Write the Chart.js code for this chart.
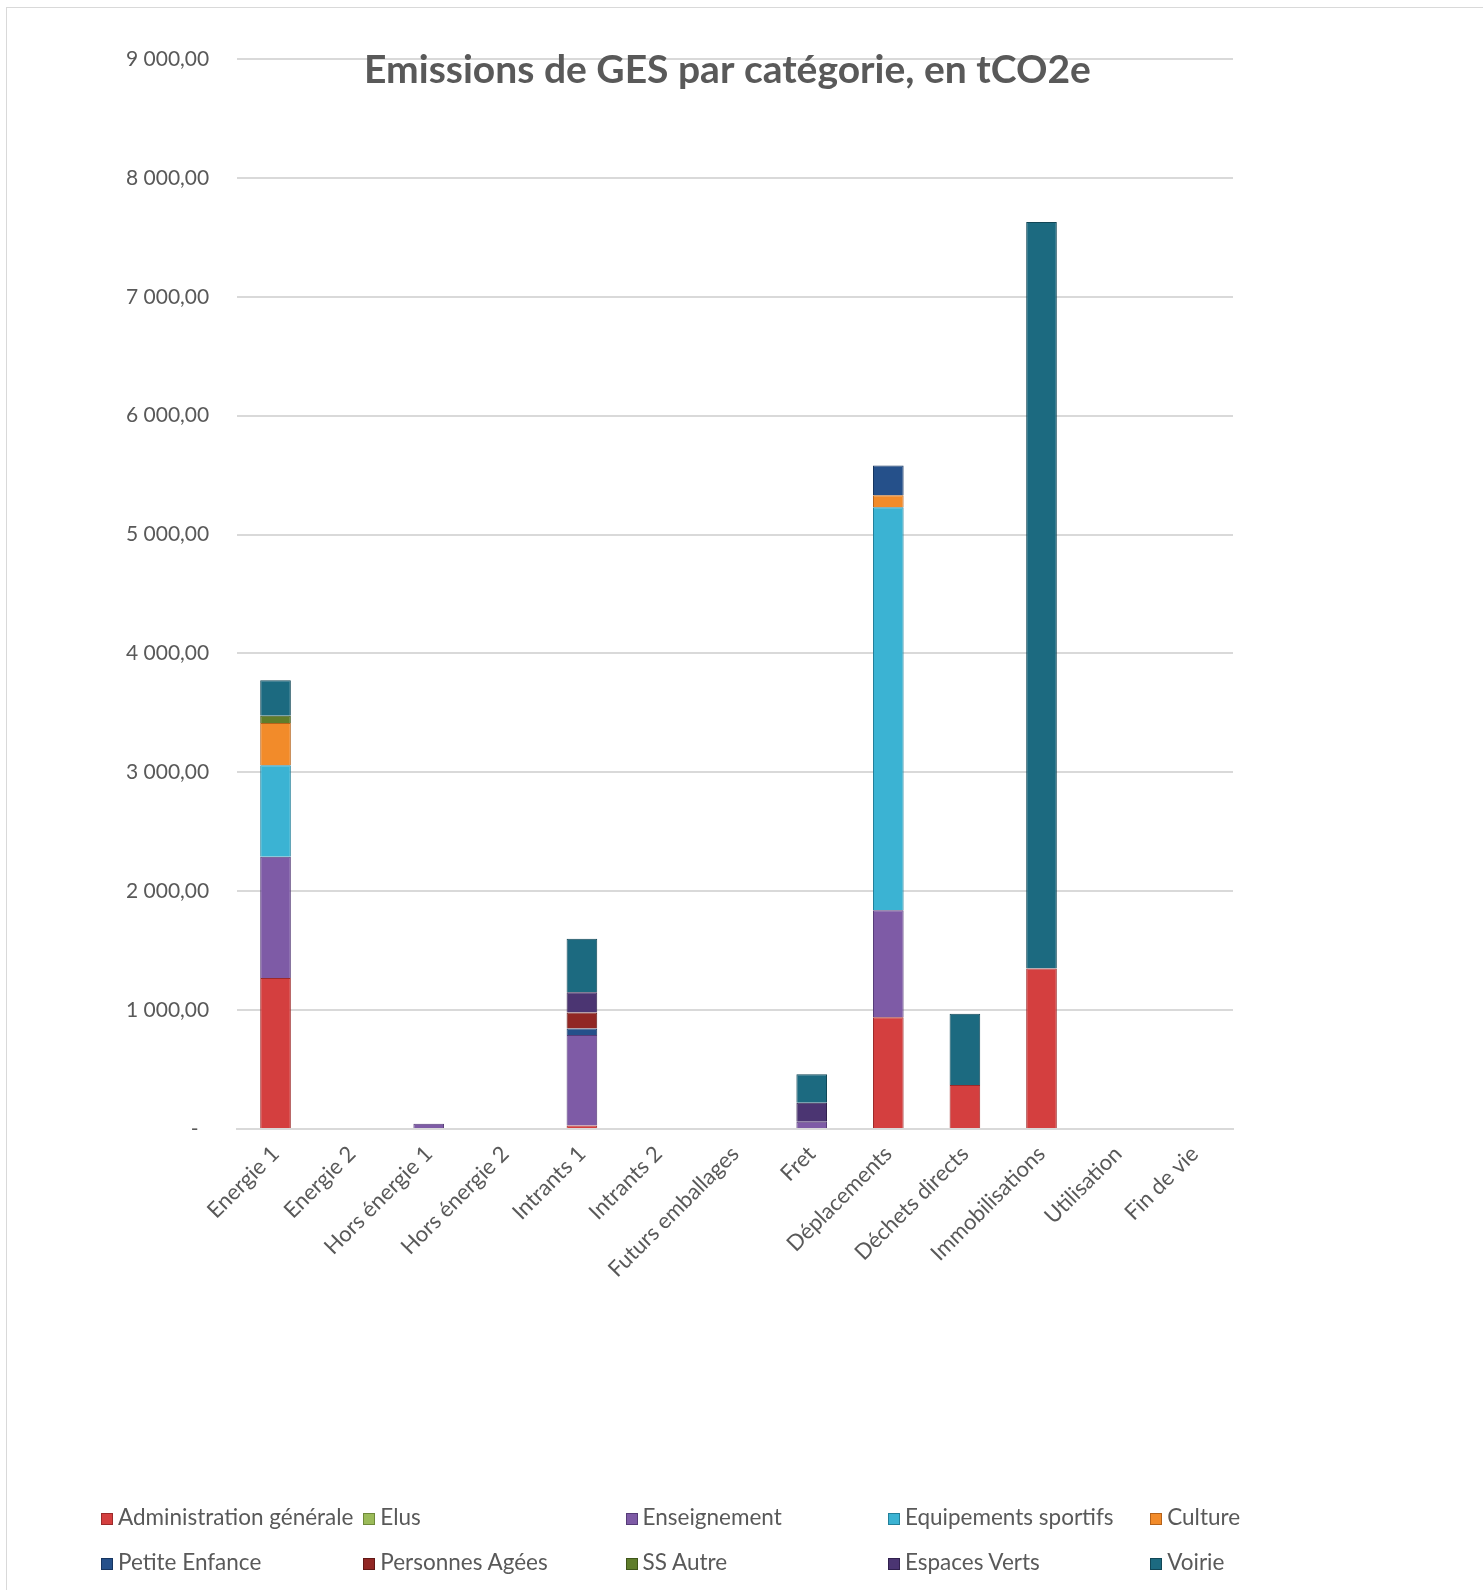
<!DOCTYPE html>
<html>
<head>
<meta charset="utf-8">
<script src="https://cdn.jsdelivr.net/npm/chart.js@4/dist/chart.umd.min.js"></script>
<style>
  body { margin: 0; background: #fff; overflow: hidden; font-family: Lato, sans-serif; }
  #cadre { position: absolute; left: 6px; top: 7px; width: 1500px; height: 1600px; border: 1px solid #d9d9d9; }
  #graphique { position: absolute; left: 0; top: 0; }
  #legende { position: absolute; left: 0; top: 0; width: 1483px; }
  .item { position: absolute; font-size: 22.5px; color: #595959; white-space: nowrap; line-height: 24px; }
  .item span.carre { display: inline-block; width: 12px; height: 12px; margin-right: 5px; vertical-align: 0px; box-sizing: border-box; }
</style>
</head>
<body>
<div id="cadre"></div>
<canvas id="graphique" width="1483" height="1590"></canvas>
<div id="legende"></div>
<script>
const categories = ["Energie 1", "Energie 2", "Hors énergie 1", "Hors énergie 2", "Intrants 1", "Intrants 2",
  "Futurs emballages", "Fret", "Déplacements", "Déchets directs", "Immobilisations", "Utilisation", "Fin de vie"];

const adminGenerale   = [1270, 0, 0,  0, 30,  0, 0, 0,   940,  370, 1350, 0, 0];
const elus            = [0,    0, 0,  0, 0,   0, 0, 0,   0,    0,   0,    0, 0];
const enseignement    = [1020, 0, 45, 0, 760, 0, 0, 60,  900,  0,   0,    0, 0];
const equipSportifs   = [770,  0, 0,  0, 0,   0, 0, 0,   3390, 0,   0,    0, 0];
const culture         = [355,  0, 0,  0, 0,   0, 0, 0,   100,  0,   0,    0, 0];
const petiteEnfance   = [0,    0, 0,  0, 55,  0, 0, 0,   250,  0,   0,    0, 0];
const personnesAgees  = [0,    0, 0,  0, 135, 0, 0, 0,   0,    0,   0,    0, 0];
const ssAutre         = [60,   0, 0,  0, 0,   0, 0, 0,   0,    0,   0,    0, 0];
const espacesVerts    = [0,    0, 0,  0, 170, 0, 0, 160, 0,    0,   0,    0, 0];
const voirie          = [300,  0, 0,  0, 450, 0, 0, 240, 0,    600, 6280, 0, 0];

const series = [
  { label: "Administration générale", data: adminGenerale, couleur: "#d43f3f", bord: "#9c2a2a" },
  { label: "Elus", data: elus, couleur: "#9bbb59", bord: "#6f8a3a" },
  { label: "Enseignement", data: enseignement, couleur: "#7e5ba6", bord: "#563c78" },
  { label: "Equipements sportifs", data: equipSportifs, couleur: "#3bb3d3", bord: "#22809a" },
  { label: "Culture", data: culture, couleur: "#f28b2a", bord: "#b5621a" },
  { label: "Petite Enfance", data: petiteEnfance, couleur: "#25508a", bord: "#163560" },
  { label: "Personnes Agées", data: personnesAgees, couleur: "#912724", bord: "#621815" },
  { label: "SS Autre", data: ssAutre, couleur: "#5f7d2b", bord: "#3f561a" },
  { label: "Espaces Verts", data: espacesVerts, couleur: "#4b3572", bord: "#30204d" },
  { label: "Voirie", data: voirie, couleur: "#1c6a80", bord: "#114757" }
];

function formatFr(v) {
  if (v === 0) return "-  ";
  const s = Math.round(v).toString().replace(/\B(?=(\d{3})+(?!\d))/g, " ");
  return s + ",00";
}

const titrePlugin = {
  id: "titreInterne",
  afterDraw(chart) {
    const ctx = chart.ctx;
    ctx.save();
    ctx.font = "bold 39px Lato";
    ctx.fillStyle = "#595959";
    ctx.textAlign = "center";
    ctx.textBaseline = "middle";
    ctx.fillText("Emissions de GES par catégorie, en tCO2e", chart.width / 2 - 14, chart.chartArea.top + 11);
    ctx.restore();
  }
};

Chart.defaults.font.family = "Lato";
Chart.defaults.font.size = 21;
Chart.defaults.color = "#595959";

const graphique = new Chart(document.getElementById("graphique"), {
  type: "bar",
  data: {
    labels: categories,
    datasets: series.map(s => ({
      label: s.label,
      data: s.data,
      backgroundColor: s.couleur,
      borderColor: s.bord,
      borderWidth: 1,
      barPercentage: 0.5,
      categoryPercentage: 0.8
    }))
  },
  options: {
    responsive: false,
    animation: false,
    layout: { padding: { left: 98, right: 250, top: 59, bottom: 261 } },
    plugins: {
      legend: { display: false },
      title: { display: false },
      tooltip: { enabled: false }
    },
    scales: {
      x: {
        stacked: true,
        grid: { display: false },
        border: { color: "#d9d9d9", width: 2 },
        ticks: { maxRotation: 45, minRotation: 45, autoSkip: false, padding: 4, color: "#595959", font: { size: 22 } },
        afterFit(scale) { scale.height = 200; }
      },
      y: {
        stacked: true,
        min: 0,
        max: 9000,
        border: { display: false },
        grid: { color: "#d9d9d9", lineWidth: 2, drawTicks: false },
        ticks: { stepSize: 1000, padding: 28, color: "#595959", callback: v => formatFr(v) }
      }
    }
  },
  plugins: [titrePlugin]
});

// legende en grille, comme dans Excel
const legende = document.getElementById("legende");
series.forEach((s, i) => {
  const col = i % 5, ligne = Math.floor(i / 5);
  const d = document.createElement("div");
  d.className = "item";
  d.style.left = (101 + col * 262.3) + "px";
  d.style.top = (1505 + ligne * 45) + "px";
  d.innerHTML = '<span class="carre" style="background:' + s.couleur + ';border:1px solid ' + s.bord + '"></span>' + s.label;
  legende.appendChild(d);
});
</script>
</body>
</html>
